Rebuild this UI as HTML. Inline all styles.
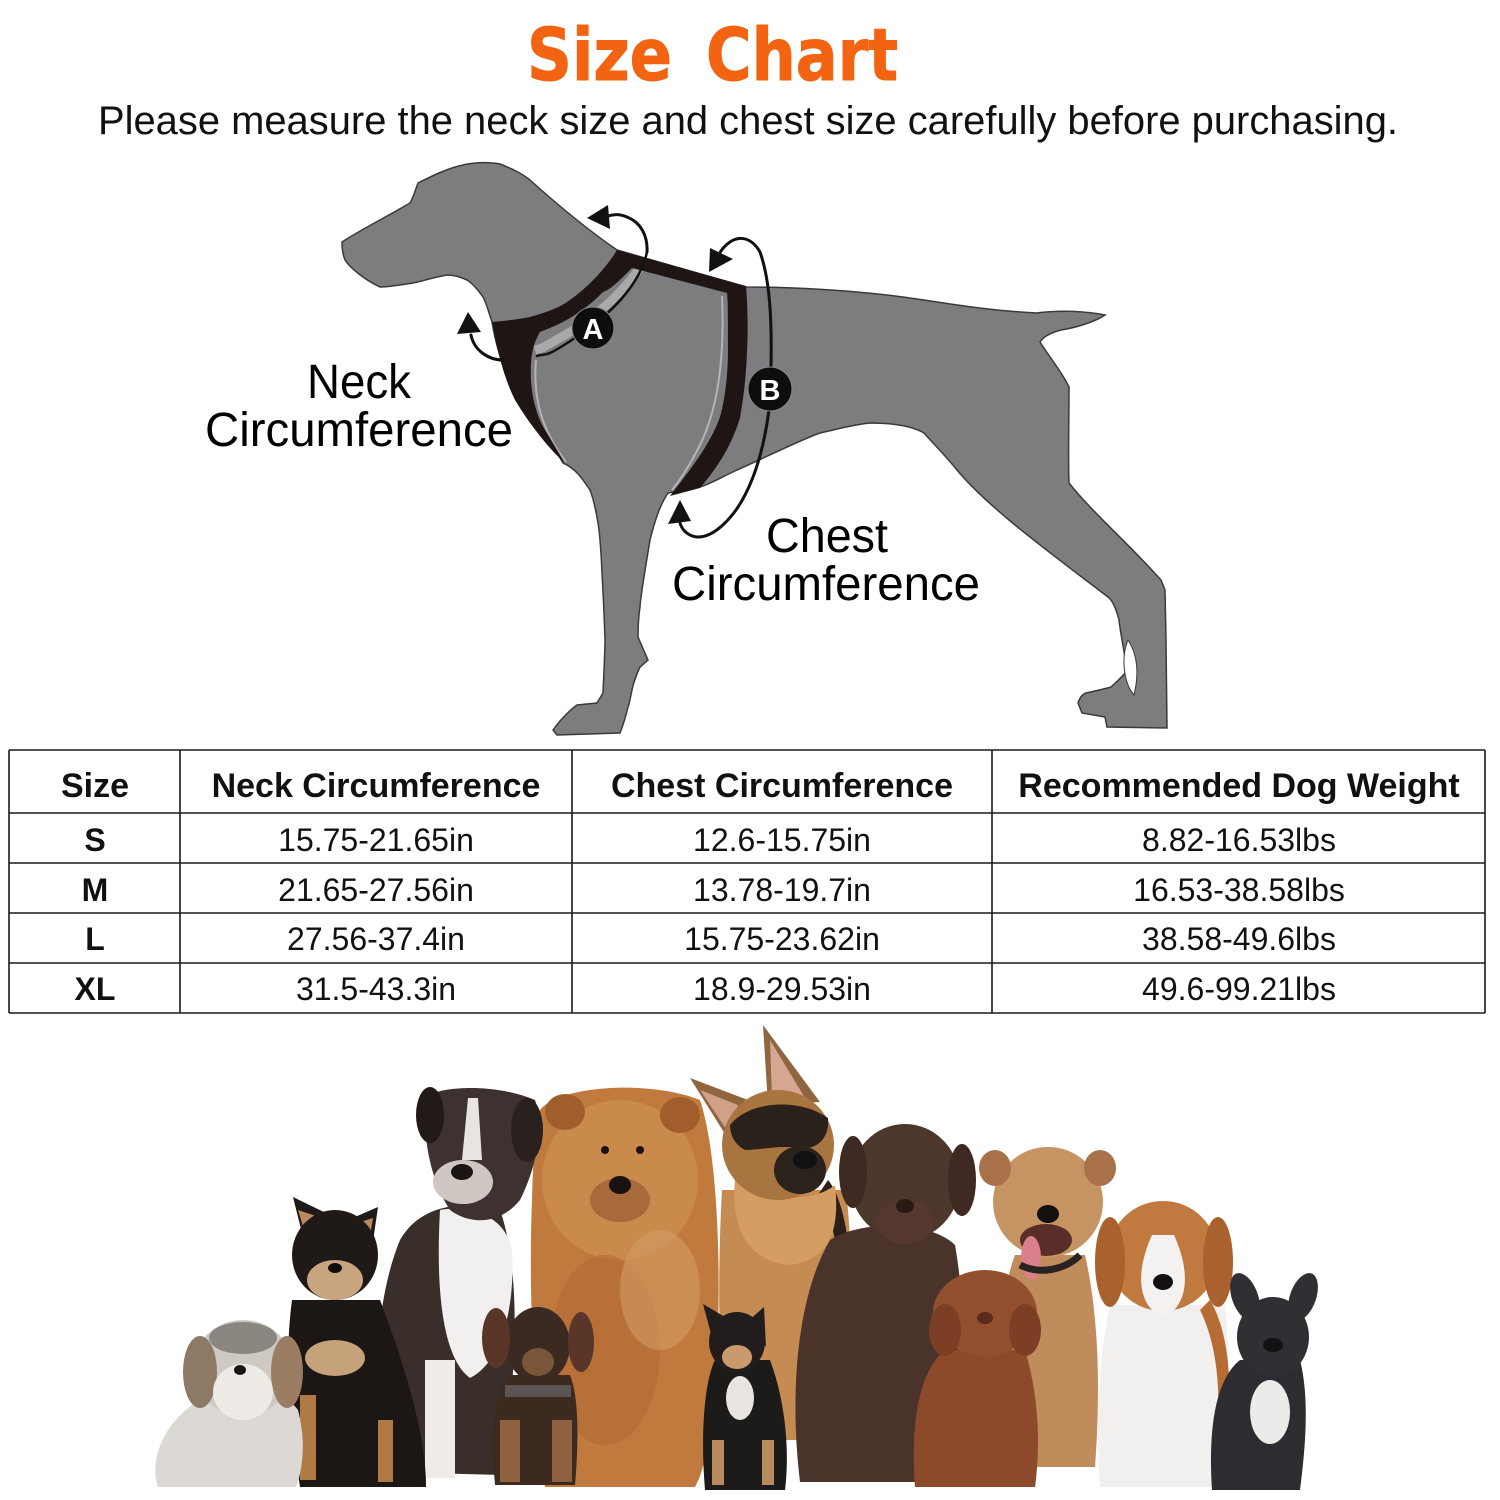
<!DOCTYPE html>
<html><head><meta charset="utf-8"><style>
html,body{margin:0;padding:0;background:#fff;}
svg{display:block;}
</style></head><body>
<svg width="1500" height="1500" viewBox="0 0 1500 1500" xmlns="http://www.w3.org/2000/svg">
<rect width="1500" height="1500" fill="#fff"/>

<!-- Title -->
<g font-family="'Comic Sans MS','DejaVu Sans',sans-serif" font-weight="bold" font-size="72" fill="#f26411" stroke="#f26411" stroke-width="1" stroke-linejoin="round">
<text x="527" y="80" textLength="145" lengthAdjust="spacingAndGlyphs">Size</text>
<text x="706" y="80" textLength="192" lengthAdjust="spacingAndGlyphs">Chart</text>
</g>
<text x="98" y="134" font-family="'Liberation Sans',Arial,sans-serif" font-size="40" fill="#111" textLength="1300" lengthAdjust="spacingAndGlyphs">Please measure the neck size and chest size carefully before purchasing.</text>

<!-- Dog silhouette -->
<path fill="#7d7d80" stroke="#3a3a3a" stroke-width="1.5" d="M342,242
C360,230 390,215 410,203 C414,196 416,188 418,183 C432,176 448,168 463,165 C475,162 490,162 500,164
C510,168 520,172 530,180 C550,198 585,228 617,250 L746,287 C790,287 850,290 903,297
C940,302 980,310 1036,313 C1060,310 1085,311 1105,315 C1098,320 1080,327 1061,330
C1050,333 1043,337 1040,342 C1050,358 1062,372 1069,387 C1069,420 1068,460 1069,483
C1090,510 1130,545 1161,580 L1165,590 L1166,640 L1167,728 L1107,727 L1105,717 L1082,713 L1078,703
C1080,697 1083,694 1086,693 C1100,690 1108,688 1111,687 C1118,680 1124,676 1127,670
C1124,650 1120,630 1119,620 C1116,608 1112,600 1108,597 C1060,560 990,510 957,470
C945,455 930,440 924,433 C910,425 890,423 870,423 C850,425 835,430 820,433
C800,440 760,460 737,470 C720,478 710,484 700,487 L668,493
C660,505 655,520 650,540 C645,570 640,600 640,607 C638,620 638,630 638,637 L648,660 L640,667
C636,675 633,685 632,690 C630,700 629,705 628,707 C625,720 622,728 620,733 L557,735 L553,730
C560,720 570,710 577,705 L597,703 L603,693 C604,670 605,650 605,640 C604,610 603,590 602,573
C601,550 600,535 598,523 C595,505 592,495 590,490 C582,478 575,468 563,463
C550,440 530,410 510,383 C500,360 495,340 492,322 C488,310 486,302 483,297
C478,290 472,283 467,280 C460,277 455,275 447,275 C430,278 420,282 413,283
C400,285 390,287 380,287 C365,280 350,268 345,260 C343,255 342,248 342,242 Z"/>
<!-- gap in hind leg -->
<path fill="#fff" stroke="#3a3a3a" stroke-width="1" d="M1128,640 C1120,660 1125,685 1134,695 C1139,675 1138,655 1128,640 Z"/>

<!-- light collar strip -->
<path d="M640,268 C620,295 595,318 565,335 S545,347 535,350" fill="none" stroke="#a9a9ab" stroke-width="9"/>
<!-- vest panel light outline -->
<path d="M536,360 C533,395 540,428 566,462" fill="none" stroke="#b4b4b6" stroke-width="2"/>
<path d="M722,296 C724,340 722,400 700,445 C690,465 680,480 672,490" fill="none" stroke="#b4b4b6" stroke-width="2"/>

<!-- Harness -->
<path fill="#1f1515" d="M617,250 L746,286 C748,310 748,335 747,352 C746,380 743,400 740,418
C730,450 715,470 700,488 L670,496 C690,470 710,445 720,417 C726,395 728,370 728,350
C728,320 728,300 727,293 L632,268 C620,280 610,290 603,292 C590,305 580,312 570,318
C560,324 550,328 540,332 C532,345 530,360 531,380 C532,400 538,420 547,433
C553,443 560,455 565,463 C550,450 530,425 515,400 C505,380 498,355 492,322
C505,321 520,319 530,317 C548,312 560,307 567,302 C585,290 605,270 617,250 Z"/>

<!-- Arrows -->
<g fill="none" stroke="#111" stroke-width="3" stroke-linecap="round">
<path d="M647,252 C648,235 640,222 627,217 C620,214 615,214 608,216"/>
<path d="M647,252 C640,285 610,315 575,338 S548,352 537,356" stroke-width="2.5"/>
<path d="M503,360 C488,360 474,350 471,335"/>
<path d="M771,368 C772,320 770,280 760,252 C752,238 740,235 730,242 C724,246 720,252 718,256"/>
<path d="M769,410 C765,440 758,470 745,495 C735,515 715,538 697,537 C688,536 682,530 680,523"/>
</g>
<g fill="#111">
<polygon points="587,218 608,205 610,229"/>
<polygon points="468,312 457,334 481,332"/>
<polygon points="709,272 710,248 733,259"/>
<polygon points="680,500 668,524 691,521"/>
</g>
<circle cx="593" cy="328" r="21" fill="#0d0d0d" stroke="#888" stroke-width="1"/>
<text x="593" y="339" text-anchor="middle" font-family="'Liberation Sans',Arial,sans-serif" font-weight="bold" font-size="29" fill="#fff">A</text>
<circle cx="770" cy="389" r="22" fill="#0d0d0d" stroke="#888" stroke-width="1"/>
<text x="770" y="400" text-anchor="middle" font-family="'Liberation Sans',Arial,sans-serif" font-weight="bold" font-size="29" fill="#fff">B</text>

<!-- Labels -->
<g font-family="'Liberation Sans',Arial,sans-serif" font-size="48" fill="#000">
<text x="307" y="398" textLength="104" lengthAdjust="spacingAndGlyphs">Neck</text>
<text x="205" y="446" textLength="308" lengthAdjust="spacingAndGlyphs">Circumference</text>
<text x="766" y="552" textLength="122" lengthAdjust="spacingAndGlyphs">Chest</text>
<text x="672" y="600" textLength="308" lengthAdjust="spacingAndGlyphs">Circumference</text>
</g>

<!-- Table -->
<g stroke="#1a1a1a" stroke-width="1.6">
<line x1="9" y1="750" x2="1485" y2="750"/>
<line x1="9" y1="813" x2="1485" y2="813"/>
<line x1="9" y1="863" x2="1485" y2="863"/>
<line x1="9" y1="913" x2="1485" y2="913"/>
<line x1="9" y1="963" x2="1485" y2="963"/>
<line x1="9" y1="1013" x2="1485" y2="1013"/>
<line x1="9" y1="750" x2="9" y2="1013"/>
<line x1="180" y1="750" x2="180" y2="1013"/>
<line x1="572" y1="750" x2="572" y2="1013"/>
<line x1="992" y1="750" x2="992" y2="1013"/>
<line x1="1485" y1="750" x2="1485" y2="1013"/>
</g>
<g font-family="'Liberation Sans',Arial,sans-serif" fill="#111" text-anchor="middle">
<g font-weight="bold" font-size="34">
<text x="95" y="797">Size</text>
<text x="376" y="797">Neck Circumference</text>
<text x="782" y="797">Chest Circumference</text>
<text x="1239" y="797">Recommended Dog Weight</text>
<text x="95" y="851" font-size="32">S</text>
<text x="95" y="901" font-size="32">M</text>
<text x="95" y="950" font-size="32">L</text>
<text x="95" y="1000" font-size="32">XL</text>
</g>
<g font-size="32">
<text x="376" y="851">15.75-21.65in</text>
<text x="376" y="901">21.65-27.56in</text>
<text x="376" y="950">27.56-37.4in</text>
<text x="376" y="1000">31.5-43.3in</text>
<text x="782" y="851">12.6-15.75in</text>
<text x="782" y="901">13.78-19.7in</text>
<text x="782" y="950">15.75-23.62in</text>
<text x="782" y="1000">18.9-29.53in</text>
<text x="1239" y="851">8.82-16.53lbs</text>
<text x="1239" y="901">16.53-38.58lbs</text>
<text x="1239" y="950">38.58-49.6lbs</text>
<text x="1239" y="1000">49.6-99.21lbs</text>
</g>
</g>

<!-- Dogs photo approximation -->
<g>
<!-- German shepherd -->
<path fill="#c48b52" d="M722,1190 C718,1260 718,1350 724,1440 L848,1440 C852,1350 854,1260 846,1190 Z"/>
<path fill="#2a2019" d="M828,1180 C845,1200 855,1260 850,1330 L842,1330 C842,1270 836,1220 818,1195 Z"/>
<path fill="#d49d62" d="M735,1180 C760,1200 810,1205 835,1185 C840,1230 830,1260 790,1265 C750,1262 730,1230 735,1180 Z"/>
<polygon fill="#8f6640" points="690,1078 748,1100 735,1150"/>
<polygon fill="#d0a088" points="700,1090 738,1105 732,1138"/>
<polygon fill="#8f6640" points="763,1025 820,1102 768,1105"/>
<polygon fill="#d6a690" points="770,1040 805,1098 772,1098"/>
<ellipse cx="778" cy="1145" rx="56" ry="55" fill="#a8743f"/>
<path fill="#2b211b" d="M730,1125 C750,1100 800,1098 828,1118 C830,1140 815,1150 800,1148 C780,1145 760,1150 745,1150 C735,1145 730,1135 730,1125 Z"/>
<ellipse cx="800" cy="1170" rx="26" ry="24" fill="#2b221c"/>
<ellipse cx="805" cy="1160" rx="12" ry="9" fill="#111"/>

<!-- Chow chow -->
<path fill="#c07a3e" d="M540,1110 C560,1085 650,1080 700,1100 C720,1160 722,1300 715,1380 C712,1430 705,1470 695,1487 L545,1487 C535,1420 528,1300 532,1200 C533,1160 535,1130 540,1110 Z"/>
<ellipse cx="620" cy="1180" rx="78" ry="80" fill="#c98a4b"/>
<ellipse cx="565" cy="1112" rx="20" ry="18" fill="#a15e2c"/>
<ellipse cx="680" cy="1115" rx="20" ry="18" fill="#a15e2c"/>
<ellipse cx="605" cy="1350" rx="55" ry="95" fill="#b46e36" opacity="0.7"/>
<ellipse cx="660" cy="1290" rx="40" ry="60" fill="#d49b62" opacity="0.6"/>
<ellipse cx="620" cy="1200" rx="30" ry="22" fill="#a86a3a"/>
<ellipse cx="620" cy="1185" rx="11" ry="9" fill="#1a1210"/>
<circle cx="605" cy="1150" r="4" fill="#1a1210"/><circle cx="640" cy="1150" r="4" fill="#1a1210"/>

<!-- Boxer -->
<path fill="#3a2e2b" d="M385,1472 C370,1400 375,1300 400,1240 C420,1205 460,1200 500,1210 C518,1260 518,1350 508,1420 L503,1475 Z"/>
<path fill="#f2f0ee" d="M440,1210 C470,1205 505,1215 512,1250 C515,1300 505,1360 470,1378 C445,1360 435,1300 440,1210 Z"/>
<rect x="425" y="1360" width="30" height="118" fill="#efebe8"/>
<path fill="#3e3230" d="M428,1095 C450,1085 500,1085 535,1100 C545,1130 535,1170 520,1200 C500,1225 470,1225 450,1210 C430,1180 420,1130 428,1095 Z"/>
<ellipse cx="430" cy="1115" rx="14" ry="28" fill="#221a18"/>
<ellipse cx="527" cy="1130" rx="16" ry="32" fill="#2a201d"/>
<path fill="#e8e4e0" d="M468,1098 L478,1098 L482,1160 L462,1160 Z"/>
<ellipse cx="463" cy="1182" rx="30" ry="22" fill="#cfc7c2"/>
<ellipse cx="462" cy="1172" rx="11" ry="8" fill="#1a1412"/>

<!-- Shiba -->
<path fill="#1c1715" d="M292,1300 C284,1360 290,1420 300,1487 L426,1487 C426,1440 410,1380 380,1300 Z"/>
<polygon fill="#1f1a17" points="293,1197 305,1245 330,1215"/>
<polygon fill="#1f1a17" points="378,1207 372,1248 348,1220"/>
<polygon fill="#b98a60" points="298,1210 306,1236 322,1218"/>
<polygon fill="#b98a60" points="373,1218 369,1242 354,1224"/>
<ellipse cx="335" cy="1255" rx="43" ry="45" fill="#1f1a17"/>
<ellipse cx="335" cy="1280" rx="28" ry="20" fill="#c9a57f"/>
<ellipse cx="335" cy="1268" rx="7" ry="5" fill="#0e0b0a"/>
<ellipse cx="335" cy="1358" rx="30" ry="18" fill="#c6a27a"/>
<rect x="300" y="1395" width="16" height="85" fill="#b07a45"/>
<rect x="378" y="1420" width="15" height="62" fill="#b07a45"/>

<!-- Shih tzu -->
<path fill="#dcd8d4" d="M158,1487 C148,1460 165,1420 200,1400 C230,1385 280,1385 298,1410 C306,1440 303,1470 296,1487 Z"/>
<ellipse cx="243" cy="1368" rx="50" ry="48" fill="#cfc9c3"/>
<ellipse cx="200" cy="1372" rx="17" ry="36" fill="#8e7866"/>
<ellipse cx="287" cy="1372" rx="16" ry="36" fill="#9a7d63"/>
<ellipse cx="243" cy="1338" rx="34" ry="16" fill="#8c8680"/>
<ellipse cx="243" cy="1392" rx="30" ry="28" fill="#eeeae6"/>
<ellipse cx="240" cy="1370" rx="6" ry="5" fill="#1a1412"/>

<!-- Dachshund -->
<path fill="#3d2a1f" d="M495,1485 C490,1430 495,1390 510,1375 L570,1375 C580,1400 578,1450 575,1485 Z"/>
<rect x="500" y="1420" width="20" height="62" fill="#8f6140"/>
<rect x="552" y="1420" width="20" height="62" fill="#8f6140"/>
<ellipse cx="538" cy="1345" rx="32" ry="38" fill="#3a2a22"/>
<ellipse cx="496" cy="1338" rx="14" ry="30" fill="#5a3628"/>
<ellipse cx="581" cy="1342" rx="13" ry="30" fill="#5a3628"/>
<ellipse cx="538" cy="1362" rx="16" ry="14" fill="#7a5538"/>
<rect x="505" y="1385" width="66" height="12" fill="#5a5552"/>

<!-- Chihuahua -->
<path fill="#1d1a1a" d="M705,1490 C700,1430 705,1380 715,1360 L770,1360 C785,1400 790,1450 785,1490 Z"/>
<ellipse cx="740" cy="1398" rx="14" ry="22" fill="#e8e4e0"/>
<polygon fill="#221d1c" points="703,1304 714,1345 730,1320"/>
<polygon fill="#221d1c" points="764,1307 766,1347 747,1322"/>
<ellipse cx="737" cy="1342" rx="28" ry="30" fill="#221d1c"/>
<ellipse cx="737" cy="1357" rx="15" ry="12" fill="#c99a6e"/>
<rect x="712" y="1440" width="12" height="45" fill="#b98a5e"/>
<rect x="762" y="1440" width="12" height="45" fill="#b98a5e"/>

<!-- Labrador -->
<path fill="#4a332a" d="M800,1482 C790,1400 795,1300 830,1240 C860,1220 930,1220 955,1245 C968,1320 968,1420 960,1482 Z"/>
<ellipse cx="905" cy="1182" rx="55" ry="58" fill="#4d362c"/>
<ellipse cx="853" cy="1172" rx="14" ry="36" fill="#3e2a22"/>
<ellipse cx="962" cy="1180" rx="14" ry="36" fill="#3e2a22"/>
<ellipse cx="905" cy="1222" rx="28" ry="22" fill="#56392e"/>
<ellipse cx="905" cy="1206" rx="9" ry="7" fill="#2a1a15"/>

<!-- Pit mix -->
<path fill="#c08c5c" d="M1000,1467 C995,1380 998,1300 1015,1255 L1085,1255 C1100,1320 1100,1400 1095,1467 Z"/>
<ellipse cx="1048" cy="1202" rx="55" ry="55" fill="#c69362"/>
<ellipse cx="995" cy="1168" rx="16" ry="18" fill="#a9714a"/>
<ellipse cx="1100" cy="1168" rx="16" ry="18" fill="#a9714a"/>
<ellipse cx="1046" cy="1240" rx="26" ry="16" fill="#5a2e28"/>
<ellipse cx="1031" cy="1258" rx="10" ry="22" fill="#d9808a"/>
<ellipse cx="1048" cy="1214" rx="11" ry="9" fill="#141010"/>
<path d="M1020,1265 C1040,1275 1065,1270 1080,1255" fill="none" stroke="#2a2220" stroke-width="7"/>

<!-- Poodle -->
<path fill="#8c4a2b" d="M915,1487 C910,1420 920,1370 945,1350 L1025,1350 C1040,1400 1040,1450 1035,1487 Z"/>
<ellipse cx="985" cy="1313" rx="52" ry="43" fill="#93502f"/>
<ellipse cx="945" cy="1330" rx="16" ry="26" fill="#7c3f25"/>
<ellipse cx="1025" cy="1330" rx="16" ry="26" fill="#7c3f25"/>
<ellipse cx="985" cy="1318" rx="8" ry="6" fill="#5a2a1a"/>

<!-- Beagle -->
<path fill="#f2f0ee" d="M1100,1487 C1095,1420 1100,1350 1110,1305 L1225,1305 C1230,1360 1230,1430 1225,1487 Z"/>
<path fill="#b86c35" d="M1210,1300 C1228,1330 1232,1380 1228,1420 L1218,1420 C1220,1380 1215,1340 1200,1310 Z"/>
<ellipse cx="1163" cy="1256" rx="55" ry="55" fill="#c07a40"/>
<ellipse cx="1110" cy="1262" rx="15" ry="45" fill="#a9622e"/>
<ellipse cx="1218" cy="1262" rx="15" ry="45" fill="#a9622e"/>
<path fill="#f4f2f0" d="M1152,1235 L1174,1235 C1190,1270 1190,1305 1163,1318 C1136,1305 1136,1270 1152,1235 Z"/>
<ellipse cx="1163" cy="1282" rx="10" ry="8" fill="#141010"/>

<!-- French bulldog -->
<path fill="#2c2c31" d="M1212,1490 C1208,1430 1215,1380 1240,1360 L1300,1360 C1310,1400 1305,1450 1300,1490 Z"/>
<ellipse cx="1270" cy="1412" rx="20" ry="32" fill="#ecebea"/>
<ellipse cx="1245" cy="1297" rx="13" ry="25" fill="#2f2f34" transform="rotate(-20 1245 1297)"/>
<ellipse cx="1303" cy="1297" rx="13" ry="25" fill="#2f2f34" transform="rotate(20 1303 1297)"/>
<ellipse cx="1273" cy="1337" rx="36" ry="40" fill="#2f2f34"/>
<ellipse cx="1273" cy="1345" rx="10" ry="7" fill="#121214"/>
</g>
</svg>
</body></html>
